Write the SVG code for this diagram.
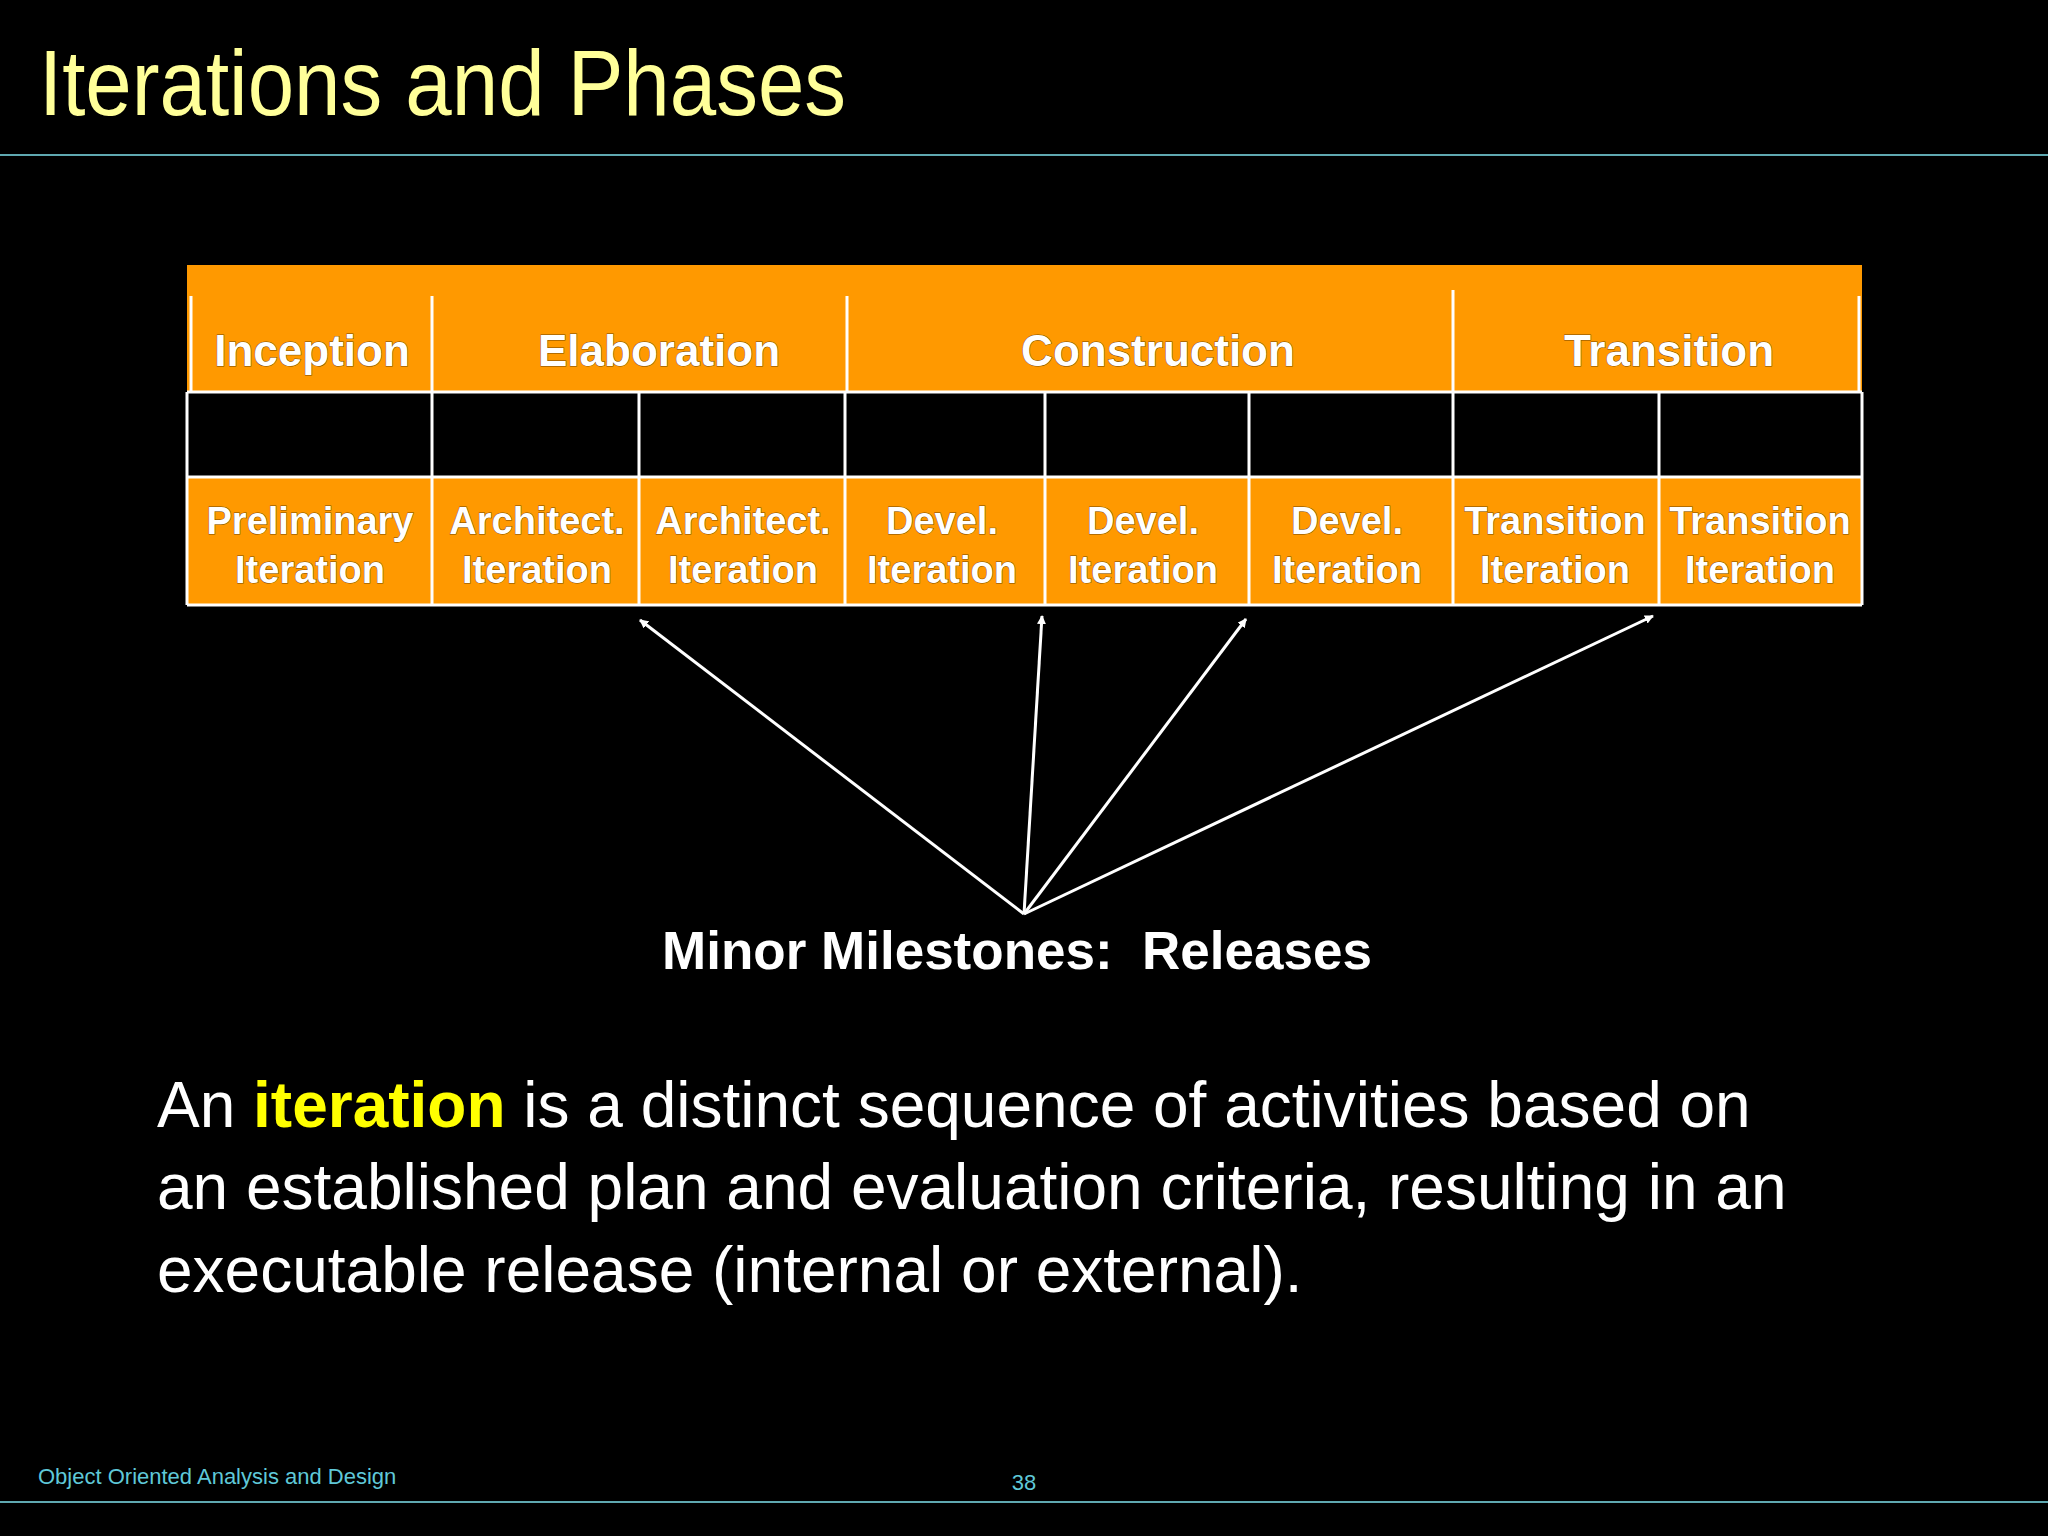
<svg xmlns="http://www.w3.org/2000/svg" width="2048" height="1536" viewBox="0 0 2048 1536">
<defs>
<style>
.hd{font-family:"Liberation Sans",Arial,sans-serif;font-weight:bold;font-size:44px;fill:#fff;text-anchor:middle;stroke:#7a4a00;stroke-width:1px;paint-order:stroke}
.it{font-family:"Liberation Sans",Arial,sans-serif;font-weight:bold;font-size:38px;fill:#fff;text-anchor:middle;stroke:#7a4a00;stroke-width:1px;paint-order:stroke}
.body{font-family:"Liberation Sans",Arial,sans-serif;font-size:64px;fill:#fff}
.wl{stroke:#fff;stroke-width:3;fill:none}
.ar{stroke:#fff;stroke-width:3;marker-end:url(#ah)}
</style>
<marker id="ah" viewBox="0 0 10 10" refX="9" refY="5" markerWidth="9" markerHeight="9" markerUnits="userSpaceOnUse" orient="auto"><path d="M0,0L10,5L0,10z" fill="#fff"/></marker>
<marker id="ah2" viewBox="0 0 10 10" refX="9" refY="5" markerWidth="8" markerHeight="8" orient="auto"><path d="M0,0L10,5L0,10z" fill="#fff"/></marker>
</defs>
<rect width="2048" height="1536" fill="#000"/>
<text x="39" y="115" font-family="Liberation Sans,Arial,sans-serif" font-size="92" fill="#FFFF99" textLength="807" lengthAdjust="spacingAndGlyphs">Iterations and Phases</text>
<line x1="0" y1="155" x2="2048" y2="155" stroke="#5fa8b0" stroke-width="2"/>
<g id="table">
<rect x="187" y="265" width="1675" height="127" fill="#FF9900"/>
<rect x="187" y="477" width="1675" height="128" fill="#FF9900"/>
<path class="wl" d="M191 296V392M432 296V392M847 296V392M1453 290V392M1859 296V392M187 392H1862M187 477H1862M187 605H1862M187 392V605M1862 392V605M432 392V605M639 392V605M845 392V605M1045 392V605M1249 392V605M1453 392V605M1659 392V605"/>
<text class="hd" x="312" y="366">Inception</text>
<text class="hd" x="659" y="366">Elaboration</text>
<text class="hd" x="1158" y="366">Construction</text>
<text class="hd" x="1669" y="366">Transition</text>
<g class="it">
<text x="310" y="534">Preliminary</text><text x="310" y="583">Iteration</text>
<text x="537" y="534">Architect.</text><text x="537" y="583">Iteration</text>
<text x="743" y="534">Architect.</text><text x="743" y="583">Iteration</text>
<text x="942" y="534">Devel.</text><text x="942" y="583">Iteration</text>
<text x="1143" y="534">Devel.</text><text x="1143" y="583">Iteration</text>
<text x="1347" y="534">Devel.</text><text x="1347" y="583">Iteration</text>
<text x="1555" y="534">Transition</text><text x="1555" y="583">Iteration</text>
<text x="1760" y="534">Transition</text><text x="1760" y="583">Iteration</text>
</g>
</g>
<g id="connectors">
<line class="ar" x1="1024" y1="914" x2="640" y2="620"/>
<line class="ar" x1="1024" y1="914" x2="1042" y2="616"/>
<line class="ar" x1="1024" y1="914" x2="1246" y2="619"/>
<line class="ar" x1="1024" y1="914" x2="1653" y2="616"/>
</g>
<text x="1017" y="969" font-family="Liberation Sans,Arial,sans-serif" font-weight="bold" font-size="53" fill="#fff" text-anchor="middle" xml:space="preserve">Minor Milestones:  Releases</text>
<text class="body" x="157" y="1127">An <tspan fill="#FFFF00" font-weight="bold">iteration</tspan> is a distinct sequence of activities based on</text>
<text class="body" x="157" y="1209">an established plan and evaluation criteria, resulting in an</text>
<text class="body" x="157" y="1292">executable release (internal or external).</text>
<text x="38" y="1484" font-family="Liberation Sans,Arial,sans-serif" font-size="22" fill="#5fc8d8">Object Oriented Analysis and Design</text>
<text x="1024" y="1490" font-family="Liberation Sans,Arial,sans-serif" font-size="22" fill="#5fc8d8" text-anchor="middle">38</text>
<line x1="0" y1="1502" x2="2048" y2="1502" stroke="#5fa8b0" stroke-width="2"/>
</svg>
